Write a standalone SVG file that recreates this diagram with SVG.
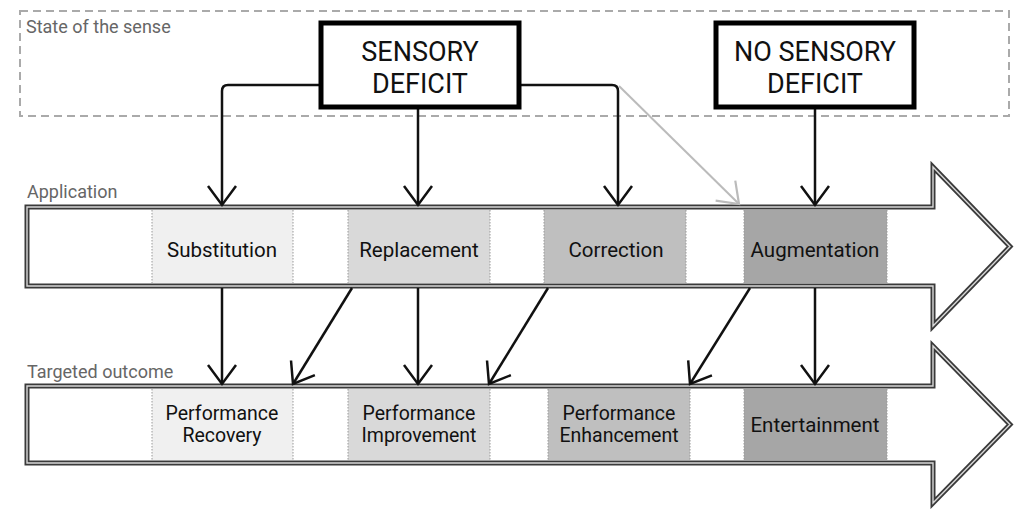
<svg xmlns="http://www.w3.org/2000/svg" width="1019" height="509" viewBox="0 0 1019 509">
<style>
.lbl{font-family:Roboto,"Liberation Sans",sans-serif;font-size:18px;fill:#666}
.big{font-family:Roboto,"Liberation Sans",sans-serif;font-size:27px;fill:#111;text-anchor:middle}
.cell{font-family:Roboto,"Liberation Sans",sans-serif;font-size:20.5px;fill:#111;text-anchor:middle}
.cell2{font-family:Roboto,"Liberation Sans",sans-serif;font-size:19.5px;fill:#111;text-anchor:middle}
.bar{fill:#fff;stroke:#3a3a3a;stroke-width:5;stroke-linejoin:miter}
.barin{fill:none;stroke:#d8d8d8;stroke-width:1.4}
.sep{stroke:#999;stroke-width:1;stroke-dasharray:1.5,1.5}
.conn{fill:none;stroke:#111;stroke-width:2.5}
.box{fill:#fff;stroke:#000;stroke-width:5}
</style>
<defs>
<marker id="ah" markerUnits="userSpaceOnUse" viewBox="-22 -18 26 36" markerWidth="26" markerHeight="36" refX="0" refY="0" orient="auto">
<path d="M-19,-14 L0,0 L-19,14" fill="none" stroke="#111" stroke-width="2.5"/>
</marker>
<marker id="ahg" markerUnits="userSpaceOnUse" viewBox="-22 -18 26 36" markerWidth="26" markerHeight="36" refX="0" refY="0" orient="auto">
<path d="M-19,-14 L0,0 L-19,14" fill="none" stroke="#bbb" stroke-width="2.2"/>
</marker>
</defs>

<g id="state-frame">
<rect x="20" y="11" width="989" height="105" fill="none" stroke="#aaa" stroke-width="2" stroke-dasharray="8,5"/>
<text class="lbl" x="26" y="33">State of the sense</text>
</g>

<g id="application-bar">
<path class="bar" d="M27,207 L933,207 L933,167 L1010,246.5 L933,326 L933,286 L27,286 Z"/>
<path class="barin" d="M27,207 L933,207 L933,167 L1010,246.5 L933,326 L933,286 L27,286 Z"/>
<text class="lbl" x="27" y="198">Application</text>
</g>

<g id="outcome-bar">
<path class="bar" d="M27,386 L933,386 L933,346 L1010,424.5 L933,503 L933,463 L27,463 Z"/>
<path class="barin" d="M27,386 L933,386 L933,346 L1010,424.5 L933,503 L933,463 L27,463 Z"/>
<text class="lbl" x="27" y="378">Targeted outcome</text>
</g>

<g id="substitution">
<rect x="152" y="210" width="141" height="73" fill="#f0f0f0"/>
<line class="sep" x1="152" y1="210" x2="152" y2="283"/><line class="sep" x1="293" y1="210" x2="293" y2="283"/>
<text class="cell" x="222" y="257">Substitution</text>
</g>
<g id="replacement">
<rect x="348" y="210" width="142" height="73" fill="#d9d9d9"/>
<line class="sep" x1="348" y1="210" x2="348" y2="283"/><line class="sep" x1="490" y1="210" x2="490" y2="283"/>
<text class="cell" x="419" y="257">Replacement</text>
</g>
<g id="correction">
<rect x="544" y="210" width="142" height="73" fill="#bfbfbf"/>
<line class="sep" x1="544" y1="210" x2="544" y2="283"/><line class="sep" x1="686" y1="210" x2="686" y2="283"/>
<text class="cell" x="616" y="257">Correction</text>
</g>
<g id="augmentation">
<rect x="744" y="210" width="143" height="73" fill="#a6a6a6"/>
<line class="sep" x1="744" y1="210" x2="744" y2="283"/><line class="sep" x1="887" y1="210" x2="887" y2="283"/>
<text class="cell" x="815" y="257">Augmentation</text>
</g>

<g id="performance-recovery">
<rect x="152" y="389" width="141" height="71" fill="#f0f0f0"/>
<line class="sep" x1="152" y1="389" x2="152" y2="460"/><line class="sep" x1="293" y1="389" x2="293" y2="460"/>
<text class="cell2" x="222" y="420">Performance</text>
<text class="cell2" x="222" y="442">Recovery</text>
</g>
<g id="performance-improvement">
<rect x="348" y="389" width="142" height="71" fill="#d9d9d9"/>
<line class="sep" x1="348" y1="389" x2="348" y2="460"/><line class="sep" x1="490" y1="389" x2="490" y2="460"/>
<text class="cell2" x="419" y="420">Performance</text>
<text class="cell2" x="419" y="442">Improvement</text>
</g>
<g id="performance-enhancement">
<rect x="548" y="389" width="142" height="71" fill="#bfbfbf"/>
<line class="sep" x1="548" y1="389" x2="548" y2="460"/><line class="sep" x1="690" y1="389" x2="690" y2="460"/>
<text class="cell2" x="619" y="420">Performance</text>
<text class="cell2" x="619" y="442">Enhancement</text>
</g>
<g id="entertainment">
<rect x="744" y="389" width="143" height="71" fill="#a6a6a6"/>
<line class="sep" x1="744" y1="389" x2="744" y2="460"/><line class="sep" x1="887" y1="389" x2="887" y2="460"/>
<text class="cell" x="815" y="432">Entertainment</text>
</g>

<g id="connectors">
<path class="conn" d="M321,85 L228,85 Q222,85 222,91 L222,205" marker-end="url(#ah)"/>
<path class="conn" d="M418,107 L418,205" marker-end="url(#ah)"/>
<path class="conn" d="M519,85 L612,85 Q618,85 618,91 L618,205" marker-end="url(#ah)"/>
<path d="M619,86 L739,204" fill="none" stroke="#bbb" stroke-width="2" marker-end="url(#ahg)"/>
<path class="conn" d="M815,107 L815,205" marker-end="url(#ah)"/>
<path class="conn" d="M222,288 L222,384" marker-end="url(#ah)"/>
<path class="conn" d="M352,288 L293,384" marker-end="url(#ah)"/>
<path class="conn" d="M418,288 L418,384" marker-end="url(#ah)"/>
<path class="conn" d="M548,288 L489,384" marker-end="url(#ah)"/>
<path class="conn" d="M750,288 L690,384" marker-end="url(#ah)"/>
<path class="conn" d="M815,288 L815,384" marker-end="url(#ah)"/>
</g>

<g id="sensory-deficit">
<rect class="box" x="321" y="23" width="198" height="84"/>
<text class="big" x="420" y="61">SENSORY</text>
<text class="big" x="420" y="92.5">DEFICIT</text>
</g>
<g id="no-sensory-deficit">
<rect class="box" x="716" y="23" width="198" height="84"/>
<text class="big" x="815" y="61">NO SENSORY</text>
<text class="big" x="815" y="92.5">DEFICIT</text>
</g>
</svg>
